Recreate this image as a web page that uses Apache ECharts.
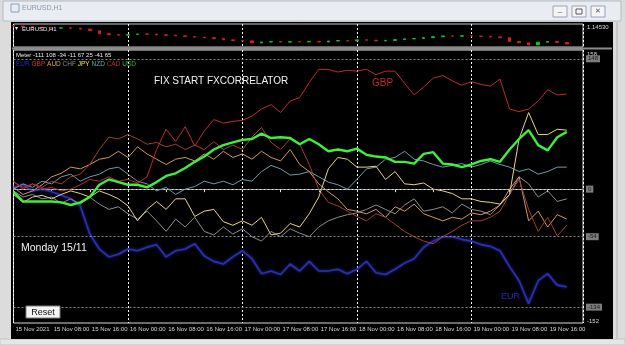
<!DOCTYPE html>
<html><head><meta charset="utf-8">
<script src="https://cdn.jsdelivr.net/npm/echarts@6/dist/echarts.min.js"></script>
<style>html,body{margin:0;padding:0;background:#dcdcdc;}#c{width:625px;height:345px;}</style>
</head><body><div id="c"></div>
<script>
// ---------- data ----------
const hours = [0,2,4,6,8,10,12,14,16,18,20,22,24,26,28,30,32,34,36,38,40,42,44,46,48,50,52,54,56,58,60,62,64,66,68,70,72,74,76,78,80,82,84,86,88,90,92,94,96,98,100,102,104,106,108,110,112,114,116];
const xTickLabels = ['15 Nov 2021','15 Nov 08:00','15 Nov 16:00','16 Nov 00:00','16 Nov 08:00','16 Nov 16:00','17 Nov 00:00','17 Nov 08:00','17 Nov 16:00','18 Nov 00:00','18 Nov 08:00','18 Nov 16:00','19 Nov 00:00','19 Nov 08:00','19 Nov 16:00'];
const currencies = ['EUR','GBP','AUD','CHF','JPY','NZD','CAD','USD'];

const EUR = [2,5,-2,0,-3,-7,-11,-19,-51,-68, -77,-74,-68,-70,-66,-63,-77,-70,-68,-62, -76,-82,-85,-77,-70,-79,-96,-93,-97,-85, -93,-82,-93,-93,-91,-96,-91,-82,-95,-97, -91,-84,-79,-66,-59,-54,-54,-57,-59,-63, -65,-70,-88,-104,-130,-104,-96,-109,-111];
const GBP = [8,2,6,0,2,-2,0,5,11,9, 14,9,11,7,14,45,68,54,71,49, 66,79,75,77,78,83,91,96,87,100, 104,121,136,136,133,135,134,136,130,134, 134,120,107,116,126,129,123,118,122,119, 117,125,91,88,91,100,113,107,108];
const AUD = [2,-6,-2,5,14,18,25,23,28,34, 36,43,36,48,40,34,28,34,36,32, 40,34,43,36,40,34,43,36,32,45, 28,20,6,-3,-11,-23,-25,-28,-23,-32, -20,-25,-17,-28,-32,-36,-32,-34,-27,-29, -25,-18,0,14,-36,-25,-43,-29,-34];
const CHF = [-2,-9,-6,-11,-9,-16,-11,-17,-9,-17, -23,-20,-28,-34,-25,-36,-48,-34,-43,-32, -48,-52,-43,-51,-45,-54,-59,-48,-54,-45, -50,-54,-43,-36,-32,-29,-27,-23,-18,-23, -28,-18,-11,-25,-23,-20,-27,-17,-23,-25, -29,-18,-6,14,6,-9,-2,-14,-11];
const JPY = [-6,-15,-9,-7,-11,-6,-2,-5,-9,-2, -6,-11,-19,-36,-23,-14,-23,-11,-11,-31, -25,-23,-37,-41,-36,-41,-32,-52,-50,-39, -43,-28,-9,23,36,34,25,25,26,11, 20,6,5,7,0,-2,-5,-11,-11,-14, -15,-17,-6,57,87,62,62,68,67];
const NZD = [0,6,2,9,6,14,17,9,14,17, 23,25,17,9,6,-2,2,-6,0,3, 9,6,9,5,11,9,20,27,23,16, 17,20,14,8,5,0,11,23,25,34, 36,43,34,32,28,25,27,29,25,28, 32,28,25,20,23,17,20,25,25];
const CAD = [9,0,6,2,9,6,14,17,28,45, 59,57,62,57,51,53,48,51,45,50, 45,54,45,50,45,59,70,53,45,57, 51,28,0,-15,-19,-25,-31,-36,-28,-32, -40,-48,-54,-59,-62,-54,-48,-41,-36,-36, -32,-25,-6,11,-23,-48,-32,-53,-41];
const USD = [-3,-14,-14,-14,-14,-15,-18,-15,-9,5, 11,8,5,5,2,8,15,18,24,31, 37,45,50,53,56,57,63,58,59,58, 51,57,51,43,45,43,46,39,37,36, 31,31,29,40,42,29,28,25,28,32, 34,31,45,57,67,50,44,59,65];

const priceOpen0 = 1.1440;
const priceClose = [1.1436,1.1430,1.1425,1.1421,1.1418,1.1420,1.1416,1.1410,1.1395,1.1370, 1.1362,1.1358,1.1364,1.1368,1.1366,1.1360,1.1357,1.1352,1.1346,1.1341, 1.1336,1.1328,1.1318,1.1312,1.1309,1.1292,1.1300,1.1304,1.1299,1.1303, 1.1301,1.1305,1.1300,1.1308,1.1312,1.1309,1.1318,1.1315,1.1309,1.1313, 1.1320,1.1326,1.1329,1.1337,1.1345,1.1351,1.1349,1.1353,1.1350,1.1348, 1.1343,1.1336,1.1304,1.1293,1.1275,1.1298,1.1304,1.1295,1.12826];
const priceAxisMax = 1.14530;
const priceAxisMin = 1.12570;

const levelLines = [148, 0, -54, -134];
const meterAxisEnds = [158, -152];

// ---------- styling ----------
const valuesBy = {EUR, GBP, AUD, CHF, JPY, NZD, CAD, USD};
const lineColor = {EUR:'#2a30b0', GBP:'#c22a2a', AUD:'#cf9666', CHF:'#8c8c8c', JPY:'#e6d47e', NZD:'#6f9aa8', CAD:'#a03e30', USD:'#3cf03c'};
const legendColor = {EUR:'#2424c8', GBP:'#e03434', AUD:'#e0a456', CHF:'#8c8c8c', JPY:'#f0e878', NZD:'#58b4b4', CAD:'#b43232', USD:'#34c034'};
const drawOrder = ['EUR','CHF','NZD','AUD','CAD','JPY','GBP','USD'];
const XMAX = 119.4;
const FONT = 'Liberation Sans';

const chart = echarts.init(document.getElementById('c'), null, {renderer:'canvas'});

const lineSeries = drawOrder.map(c => {
  const s = {
    name: c, type: 'line', xAxisIndex: 0, yAxisIndex: 0,
    data: hours.map((h, i) => [h, valuesBy[c][i]]),
    showSymbol: false, symbol: 'none', animation: false,
    lineStyle: {color: lineColor[c], width: c === 'USD' ? 2.4 : (c === 'EUR' ? 1.6 : 1),
      shadowBlur: c === 'EUR' ? 3 : 0, shadowColor: lineColor[c]},
    z: c === 'USD' ? 5 : 3
  };
  if (c === 'USD') {
    s.markLine = {
      silent: true, symbol: ['none','none'], animation: false,
      lineStyle: {color: '#8a8a8a', type: [2, 2], width: 1},
      label: {show: true, position: 'end', distance: 3, formatter: p => String(p.value),
        backgroundColor: '#7c7c7c', color: '#1a1a1a', fontSize: 6, fontFamily: FONT, padding: [1, 2, 0, 2]},
      data: levelLines.map(v => ({yAxis: v}))
    };
  }
  return s;
});

const candleData = hours.map((h, i) => {
  const o = i ? priceClose[i - 1] : priceOpen0;
  const c = priceClose[i];
  return [h, o, c, Math.min(o, c), Math.max(o, c)];
});

const lastVals = currencies.map(c => valuesBy[c][valuesBy[c].length - 1]);

const option = {
  backgroundColor: '#dcdcdc',
  animation: false,
  grid: [
    {left: 13.5, right: 42, top: 24, height: 23, show: true, borderColor: '#c8c8c8', borderWidth: 1, backgroundColor: '#000'},
    {left: 13.5, right: 42, top: 50, height: 273, show: true, borderColor: '#d8d8d8', borderWidth: 1, backgroundColor: '#000'}
  ],
  xAxis: [
    {gridIndex: 1, type: 'value', min: 0, max: XMAX, interval: 8,
      axisLine: {show: true, lineStyle: {color: '#e0e0e0'}},
      axisTick: {show: true, length: 3, lineStyle: {color: '#e0e0e0'}},
      splitLine: {show: false},
      axisLabel: {formatter: v => xTickLabels[Math.round(v / 8)] || '', align: 'left', color: '#d8d8d8', fontSize: 6, fontFamily: FONT, margin: 3, padding: [0, 0, 0, 2], showMaxLabel: false}
    },
    {gridIndex: 1, type: 'value', min: 0, max: XMAX, interval: 24, axisLine: {show: false}, axisTick: {show: false}, axisLabel: {show: false},
      splitLine: {show: true, lineStyle: {color: '#ffffff', type: [2, 2], width: 1}}},
    {gridIndex: 0, type: 'value', min: 0, max: XMAX, interval: 24, axisLine: {show: false}, axisTick: {show: false}, axisLabel: {show: false},
      splitLine: {show: true, lineStyle: {color: '#ffffff', type: [2, 2], width: 1}}}
  ],
  yAxis: [
    {gridIndex: 1, type: 'value', min: meterAxisEnds[1], max: meterAxisEnds[0], position: 'right',
      axisLine: {show: false}, axisTick: {show: false}, splitLine: {show: false},
      axisLabel: {customValues: meterAxisEnds, color: '#d8d8d8', fontSize: 6, fontFamily: FONT, margin: 4,
        formatter: v => (v === meterAxisEnds[0] ? '{t|' : '{b|') + v + '}',
        rich: {t: {color: '#d8d8d8', fontSize: 6, fontFamily: FONT, padding: [9, 0, 0, 0]},
               b: {color: '#d8d8d8', fontSize: 6, fontFamily: FONT, padding: [0, 0, 4, 0]}}}
    },
    {gridIndex: 0, type: 'value', min: priceAxisMin, max: priceAxisMax, position: 'right',
      axisLine: {show: false}, axisTick: {show: false}, splitLine: {show: false},
      axisLabel: {customValues: [priceAxisMax], formatter: v => v.toFixed(5), color: '#d8d8d8', fontSize: 6, fontFamily: FONT, margin: 4, verticalAlign: 'top'}
    }
  ],
  series: [
    {
      name: 'EURUSD,H1', type: 'candlestick', xAxisIndex: 2, yAxisIndex: 1,
      data: candleData, encode: {x: 0, y: [1, 2, 3, 4]}, barWidth: 3,
      itemStyle: {color: '#18c018', color0: '#d02020', borderColor: '#18c018', borderColor0: '#d02020', borderWidth: 1},
      markLine: {silent: true, symbol: ['none','none'], animation: false,
        lineStyle: {opacity: 0},
        label: {show: true, position: 'end', distance: 3, formatter: p => p.value.toFixed(5), backgroundColor: '#ffffff', color: '#000', fontSize: 6, fontFamily: FONT, padding: [1, 2, 0, 2]},
        data: [{yAxis: priceClose[priceClose.length - 1]}]}
    },
    ...lineSeries
  ],
  graphic: [
    // window chrome
    {type: 'rect', z: -20, shape: {x: 3, y: 1, width: 618, height: 20}, style: {fill: '#e9edf2', stroke: '#b4bcc6', lineWidth: 1}},
    {type: 'rect', z: -19, shape: {x: 11, y: 4, width: 8, height: 8}, style: {fill: 'none', stroke: '#8aa0b8', lineWidth: 1}},
    {type: 'text', z: 10, style: {text: 'EURUSD,H1', x: 22, y: 8.5, fill: '#8b98a8', font: '7px ' + FONT, verticalAlign: 'middle'}},
    {type: 'rect', z: -19, shape: {x: 553, y: 6, width: 14, height: 11}, style: {fill: '#f4f4f4', stroke: '#9aa4b0', lineWidth: 1}},
    {type: 'rect', z: -19, shape: {x: 572, y: 6, width: 14, height: 11}, style: {fill: '#f4f4f4', stroke: '#9aa4b0', lineWidth: 1}},
    {type: 'rect', z: -19, shape: {x: 591, y: 6, width: 14, height: 11}, style: {fill: '#f4f4f4', stroke: '#9aa4b0', lineWidth: 1}},
    {type: 'text', z: 10, style: {text: '–', x: 560, y: 12, fill: '#556', font: '8px ' + FONT, align: 'center', verticalAlign: 'middle'}},
    {type: 'rect', z: 10, shape: {x: 576, y: 9, width: 6, height: 5}, style: {fill: 'none', stroke: '#556', lineWidth: 1}},
    {type: 'text', z: 10, style: {text: '✕', x: 598, y: 11.5, fill: '#556', font: '7px ' + FONT, align: 'center', verticalAlign: 'middle'}},
    {type: 'rect', z: -18, shape: {x: 11, y: 22, width: 602, height: 317}, style: {fill: '#000'}},
    {type: 'rect', z: -17, shape: {x: 12, y: 47.5, width: 600, height: 2}, style: {fill: '#8c8c8c'}},
    {type: 'rect', z: -20, shape: {x: 0, y: 339, width: 625, height: 6}, style: {fill: '#e6e6e6', stroke: '#c4c4c4', lineWidth: 1}},
    {type: 'rect', z: -20, shape: {x: 616, y: 22, width: 2, height: 317}, style: {fill: '#c8c8c8'}},
    // chart texts
    {type: 'text', z: 10, style: {text: 'EURUSD,H1', x: 22, y: 29, fill: '#e8e8e8', font: '6px ' + FONT, verticalAlign: 'middle'}},
    {type: 'text', z: 10, style: {text: '▾', x: 15, y: 28.5, fill: '#e8e8e8', font: '6px ' + FONT, verticalAlign: 'middle'}},
    {type: 'text', z: 10, style: {text: 'Meter ' + lastVals.join(' '), x: 16, y: 55.5, fill: '#e8e8e8', font: '6px ' + FONT, verticalAlign: 'middle'}},
    {type: 'text', z: 10, style: {
      text: currencies.map(c => '{' + c + '|' + c + '}').join(' '), x: 16, y: 64.5, verticalAlign: 'middle', font: '6.5px ' + FONT,
      rich: Object.fromEntries(currencies.map(c => [c, {fill: legendColor[c], font: '6.5px ' + FONT}]))
    }},
    {type: 'text', z: 10, style: {text: 'FIX START FXCORRELATOR', x: 154, y: 81, fill: '#f2f2f2', font: '10px ' + FONT, verticalAlign: 'middle'}},
    {type: 'text', z: 10, style: {text: 'GBP', x: 372, y: 83.5, fill: '#c42828', font: '10px ' + FONT, verticalAlign: 'middle'}},
    {type: 'text', z: 10, style: {text: 'Monday 15/11', x: 21, y: 248, fill: '#f2f2f2', font: '10.5px ' + FONT, verticalAlign: 'middle'}},
    {type: 'text', z: 10, style: {text: 'EUR', x: 501, y: 297, fill: '#2626b4', font: '9px ' + FONT, verticalAlign: 'middle'}},
    {type: 'rect', z: 10, shape: {x: 26, y: 306, width: 34, height: 12}, style: {fill: '#f4f4f4', stroke: '#7a7a7a', lineWidth: 1}},
    {type: 'text', z: 11, style: {text: 'Reset', x: 43, y: 312.5, fill: '#101010', font: '9px ' + FONT, align: 'center', verticalAlign: 'middle'}}
  ]
};
chart.setOption(option);
</script></body></html>
